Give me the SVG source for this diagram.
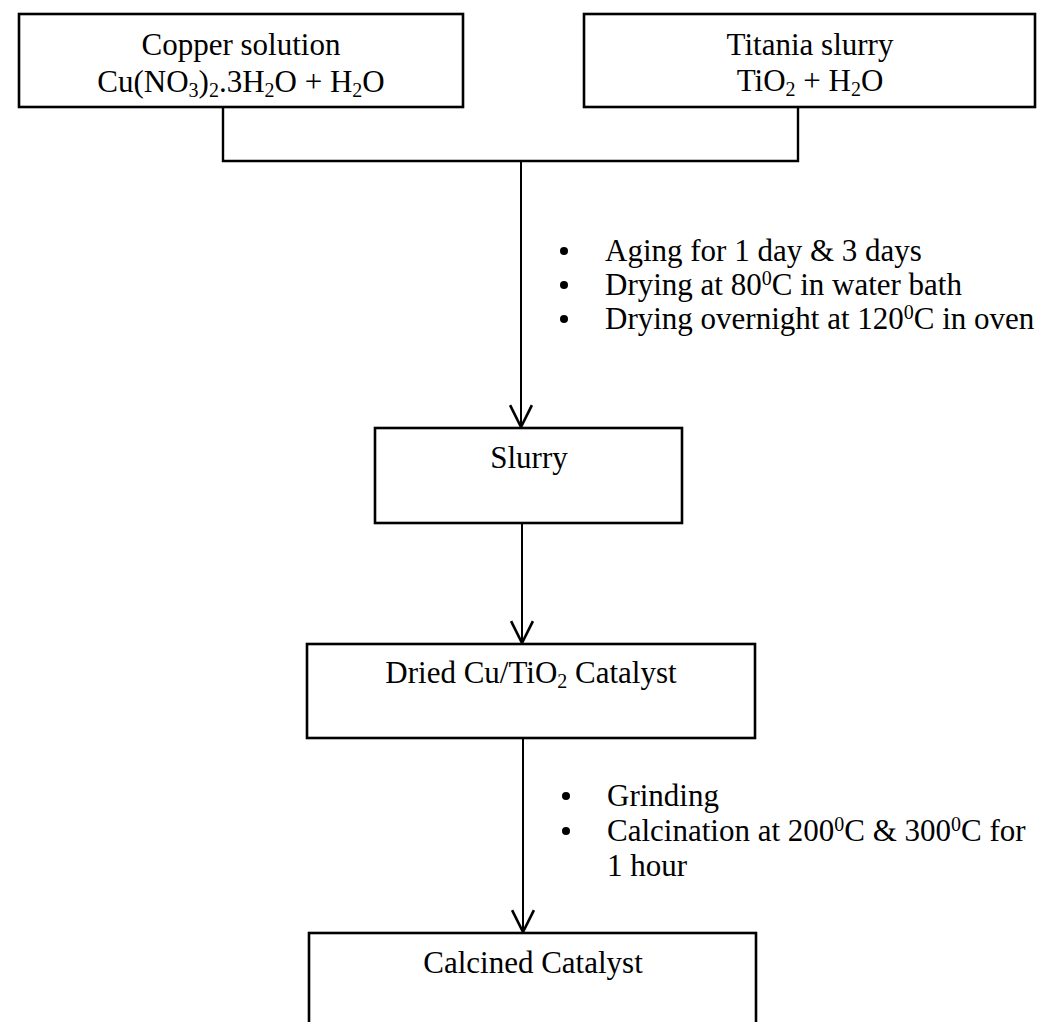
<svg xmlns="http://www.w3.org/2000/svg" width="1048" height="1022" viewBox="0 0 1048 1022">
<style>
  .box { fill: #fff; stroke: #000; stroke-width: 2.6; }
  .line { fill: none; stroke: #000; stroke-width: 2.4; }
  .arr { fill: none; stroke: #000; stroke-width: 2; }
  .dot { fill: #000; }
  text { font-family: "Liberation Serif", "Times New Roman", serif; font-size: 31px; fill: #000; }
  .c { text-anchor: middle; }
  .s { font-size: 20px; }
</style>
<defs>
  <marker id="v" markerWidth="24" markerHeight="24" refX="21" refY="11" orient="auto" markerUnits="userSpaceOnUse" viewBox="0 0 22 22">
    <path d="M1,1 L21,11 L1,21" fill="none" stroke="#000" stroke-width="2.4"/>
  </marker>
</defs>
<rect width="1048" height="1022" fill="#fff"/>
<g id="connectors">
  <path class="line" d="M223,107 V161 H798 V107"/>
  <path class="arr" d="M521,161 V427" marker-end="url(#v)"/>
  <path class="arr" d="M522,523 V643" marker-end="url(#v)"/>
  <path class="arr" d="M523,738 V932" marker-end="url(#v)"/>
</g>
<g id="copper">
  <rect class="box" x="19" y="14" width="444" height="93"/>
  <text class="c" x="241" y="55">Copper solution</text>
  <text class="c" x="241" y="92">Cu(NO<tspan class="s" dy="5">3</tspan><tspan dy="-5">)</tspan><tspan class="s" dy="5">2</tspan><tspan dy="-5">.3H</tspan><tspan class="s" dy="5">2</tspan><tspan dy="-5">O + H</tspan><tspan class="s" dy="5">2</tspan><tspan dy="-5">O</tspan></text>
</g>
<g id="titania">
  <rect class="box" x="584" y="14" width="451" height="93"/>
  <text class="c" x="810" y="55">Titania slurry</text>
  <text class="c" x="810" y="91">TiO<tspan class="s" dy="5">2</tspan><tspan dy="-5"> + H</tspan><tspan class="s" dy="5">2</tspan><tspan dy="-5">O</tspan></text>
</g>
<g id="steps1">
  <circle class="dot" cx="564" cy="251" r="4"/>
  <text x="605" y="261">Aging for 1 day &amp; 3 days</text>
  <circle class="dot" cx="564" cy="285" r="4"/>
  <text x="605" y="295">Drying at 80<tspan class="s" dy="-10">0</tspan><tspan dy="10">C in water bath</tspan></text>
  <circle class="dot" cx="564" cy="319" r="4"/>
  <text x="605" y="329">Drying overnight at 120<tspan class="s" dy="-10">0</tspan><tspan dy="10">C in oven</tspan></text>
</g>
<g id="slurry">
  <rect class="box" x="375" y="428" width="307" height="95"/>
  <text class="c" x="529" y="468">Slurry</text>
</g>
<g id="dried">
  <rect class="box" x="307" y="644" width="448" height="94"/>
  <text class="c" x="531" y="683">Dried Cu/TiO<tspan class="s" dy="5">2</tspan><tspan dy="-5"> Catalyst</tspan></text>
</g>
<g id="steps2">
  <circle class="dot" cx="566" cy="796" r="4"/>
  <text x="607" y="806">Grinding</text>
  <circle class="dot" cx="566" cy="831" r="4"/>
  <text x="607" y="841">Calcination at 200<tspan class="s" dy="-10">0</tspan><tspan dy="10">C &amp; 300</tspan><tspan class="s" dy="-10">0</tspan><tspan dy="10">C for</tspan></text>
  <text x="607" y="876">1 hour</text>
</g>
<g id="calcined">
  <rect class="box" x="309" y="933" width="447" height="110"/>
  <text class="c" x="533" y="973">Calcined Catalyst</text>
</g>
</svg>
